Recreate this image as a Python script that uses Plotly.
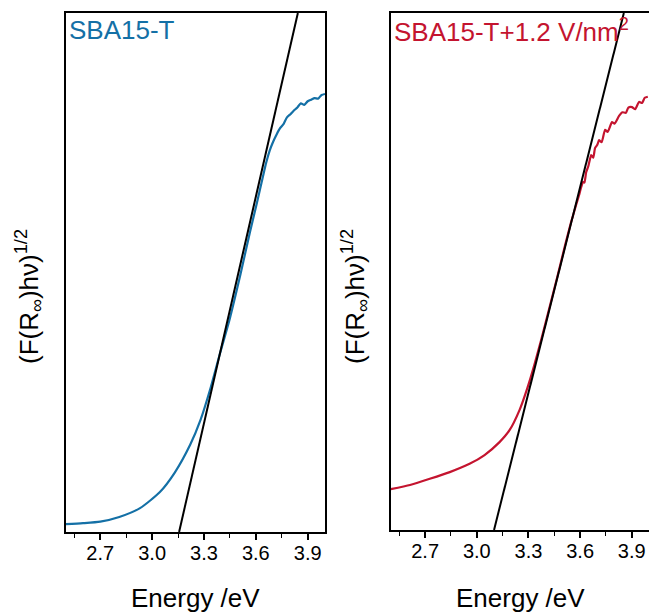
import plotly.graph_objects as go

W, H = 649, 612

# ---- data ----
energy_T = [2.50, 2.60, 2.70, 2.81, 2.93, 3.045, 3.13, 3.22, 3.28, 3.335, 3.39, 3.45, 3.51, 3.566,
            3.606, 3.643, 3.66, 3.68, 3.70, 3.72, 3.74, 3.76, 3.78, 3.80, 3.82, 3.84, 3.86, 3.88,
            3.90, 3.92, 3.94, 3.96, 3.98, 4.00]
kubelka_T = [0.015, 0.017, 0.020, 0.029, 0.046, 0.077, 0.114, 0.168, 0.216, 0.274, 0.341, 0.412,
             0.495, 0.578, 0.634, 0.688, 0.712, 0.735, 0.752, 0.766, 0.778, 0.786, 0.799, 0.805,
             0.812, 0.818, 0.826, 0.823, 0.830, 0.833, 0.836, 0.835, 0.842, 0.844]
fit_T_x = [3.156, 3.843]
fit_T_y = [0.0, 1.0]

energy_E = [2.50, 2.612, 2.727, 2.843, 2.958, 3.045, 3.132, 3.19, 3.248, 3.294, 3.334, 3.374, 3.421,
            3.467, 3.513, 3.548, 3.577, 3.594, 3.606, 3.617, 3.625, 3.635, 3.648, 3.664, 3.676,
            3.687, 3.70, 3.71, 3.725, 3.745, 3.76, 3.785, 3.80, 3.826, 3.845, 3.866, 3.88, 3.901,
            3.92, 3.942, 3.96, 3.975, 3.993]
kubelka_E = [0.079, 0.087, 0.099, 0.112, 0.128, 0.145, 0.170, 0.193, 0.232, 0.275, 0.319, 0.368,
             0.429, 0.489, 0.551, 0.596, 0.629, 0.648, 0.663, 0.673, 0.672, 0.692, 0.704, 0.725,
             0.720, 0.739, 0.745, 0.754, 0.750, 0.774, 0.770, 0.789, 0.786, 0.801, 0.808, 0.807,
             0.817, 0.818, 0.814, 0.828, 0.826, 0.836, 0.838]
fit_E_x = [3.10, 3.854]
fit_E_y = [0.0, 1.0]

x_ticks = [2.7, 3.0, 3.3, 3.6, 3.9]
x_ticklabels = ["2.7", "3.0", "3.3", "3.6", "3.9"]
x_range = [2.5, 4.0]

title_T = "SBA15-T"
title_E = "SBA15-T+1.2 V/nm<sup>2</sup>"
y_title = "(F(R<sub>∞</sub>)hν)<sup>1/2</sup>"
x_title = "Energy /eV"

BLUE = "#1470a6"
RED = "#c4142f"
FONT = "Liberation Sans, Arial, sans-serif"

def px_x(p):
    return p / W

def px_y(p):
    return (H - p) / H

fig = go.Figure()
fig.add_trace(go.Scatter(x=energy_T, y=kubelka_T, mode="lines", line=dict(color=BLUE, width=2.2, shape="spline", smoothing=0.6),
                         xaxis="x", yaxis="y", showlegend=False))
fig.add_trace(go.Scatter(x=fit_T_x, y=fit_T_y, mode="lines", line=dict(color="black", width=2),
                         xaxis="x", yaxis="y", showlegend=False))
fig.add_trace(go.Scatter(x=energy_E, y=kubelka_E, mode="lines", line=dict(color=RED, width=2.2, shape="spline", smoothing=0.5),
                         xaxis="x2", yaxis="y2", showlegend=False))
fig.add_trace(go.Scatter(x=fit_E_x, y=fit_E_y, mode="lines", line=dict(color="black", width=2),
                         xaxis="x2", yaxis="y2", showlegend=False))

xcommon = dict(range=x_range, tickmode="array", tickvals=x_ticks, ticktext=x_ticklabels,
               ticks="outside", ticklen=6, tickwidth=1.6, tickcolor="black",
               showline=True, linecolor="black", linewidth=2, showgrid=False, zeroline=False,
               tickfont=dict(family=FONT, size=20, color="black"), ticklabelstandoff=-4,
               minor=dict(ticks="outside", ticklen=4, tickwidth=1.4, tickcolor="black", dtick=0.15, tick0=2.55, showgrid=False))
ycommon = dict(range=[0, 1], showticklabels=False, ticks="", showgrid=False, zeroline=False,
               showline=True, linecolor="black", linewidth=2)

fig.update_layout(
    width=W, height=H, margin=dict(l=0, r=0, t=0, b=0),
    paper_bgcolor="white", plot_bgcolor="white",
    xaxis=dict(domain=[px_x(65.7), px_x(325)], anchor="y", mirror=True, **xcommon),
    yaxis=dict(domain=[px_y(532), px_y(13)], anchor="x", mirror=True, **ycommon),
    xaxis2=dict(domain=[px_x(390.7), 1.0], anchor="y2", mirror=True, **xcommon),
    yaxis2=dict(domain=[px_y(530), px_y(13)], anchor="x2", mirror=False, **ycommon),
)

ann = []
ann.append(dict(text=title_T, x=px_x(67), y=px_y(30), xref="paper", yref="paper", xanchor="left", yanchor="middle",
                showarrow=False, font=dict(family=FONT, size=26, color=BLUE)))
ann.append(dict(text=title_E, x=px_x(392), y=px_y(30), xref="paper", yref="paper", xanchor="left", yanchor="middle",
                showarrow=False, font=dict(family=FONT, size=26, color=RED)))
for cx in [29, 355]:
    ann.append(dict(text=y_title, x=px_x(cx), y=px_y(297), xref="paper", yref="paper", xanchor="center", yanchor="middle",
                    textangle=-90, showarrow=False, font=dict(family=FONT, size=26, color="black")))
for cx in [195.4, 520]:
    ann.append(dict(text=x_title, x=px_x(cx), y=px_y(598), xref="paper", yref="paper", xanchor="center", yanchor="middle",
                    showarrow=False, font=dict(family=FONT, size=26, color="black")))
fig.update_layout(annotations=ann)

fig.write_html("out.html")
